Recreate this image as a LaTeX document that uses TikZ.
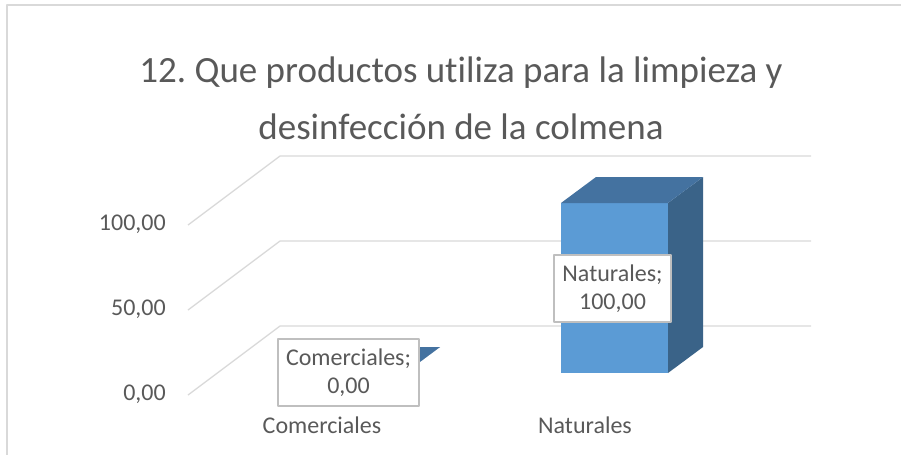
\documentclass[tikz,border=0pt]{standalone}
\usepackage{fontspec}
\setmainfont{Carlito}[Ligatures=NoCommon]
\frenchspacing
\definecolor{txtgray}{HTML}{595959}
\definecolor{gridgray}{HTML}{D9D9D9}
\definecolor{boxgray}{HTML}{BFBFBF}
\definecolor{barfront}{HTML}{5B9BD5}
\definecolor{bartop}{HTML}{4472A0}
\definecolor{barside}{HTML}{3A6388}
\begin{document}
\begin{tikzpicture}[x=1pt, y=-1pt, line join=round,
	declare function={
	yv(\v)=326-1.7*(\v);
	},
	gridline/.style={gridgray, line width=1.3pt},
	ticklabel/.style={anchor=east, text=txtgray, inner sep=0pt,
		font=\fontsize{24}{28}\selectfont},
	catlabel/.style={text=txtgray, inner sep=0pt, font=\fontsize{24}{28}\selectfont},
	datalabel/.style={draw=boxgray, line width=1.2pt, fill=white, text=txtgray,
		align=center, inner sep=0pt, font=\fontsize{24}{28}\selectfont},
	titlelabel/.style={text=txtgray, align=center, inner sep=0pt,
		font=\fontsize{37}{57}\selectfont}
	]
	\useasboundingbox (0,0) rectangle (901,455);
	% chart frame
	\draw[gridgray, line width=1.5pt] (901,5)--(7,5)--(7,455);
	\node[titlelabel] (title) at (461,98)
		{12. Que productos utiliza para la limpieza y\\desinfección de la colmena};
	% back wall and side wall
	\foreach \v in {0,50,100}
		\draw[gridline] (188,{yv(\v)+69})--(280,{yv(\v)})--(811,{yv(\v)});
	\node[ticklabel] (tick0) at (166,394) {0,00};
	\node[ticklabel] (tick50) at (166,309) {50,00};
	\node[ticklabel] (tick100) at (166,224) {100,00};
	% bars
	\foreach \x/\h in {298/0,561/100}{
		\fill[barfront] (\x,373) rectangle ({\x+107},{373-1.7*\h});
		\fill[barside] ({\x+107},{373-1.7*\h})--({\x+142},{347-1.7*\h})
			--({\x+142},347)--({\x+107},373)--cycle;
		\fill[bartop] (\x,{373-1.7*\h})--({\x+35},{347-1.7*\h})
			--({\x+142},{347-1.7*\h})--({\x+107},{373-1.7*\h})--cycle;
	}
	\node[datalabel, minimum width=141, minimum height=67] (lblcom)
		at (348.5,372.5) {Comerciales;\\0,00};
	\node[datalabel, minimum width=117, minimum height=67] (lblnat)
		at (612.5,288.5) {Naturales;\\100,00};
	\node[catlabel] (catcom) at (322,425) {Comerciales};
	\node[catlabel] (catnat) at (585,425) {Naturales};
\end{tikzpicture}
\end{document}
